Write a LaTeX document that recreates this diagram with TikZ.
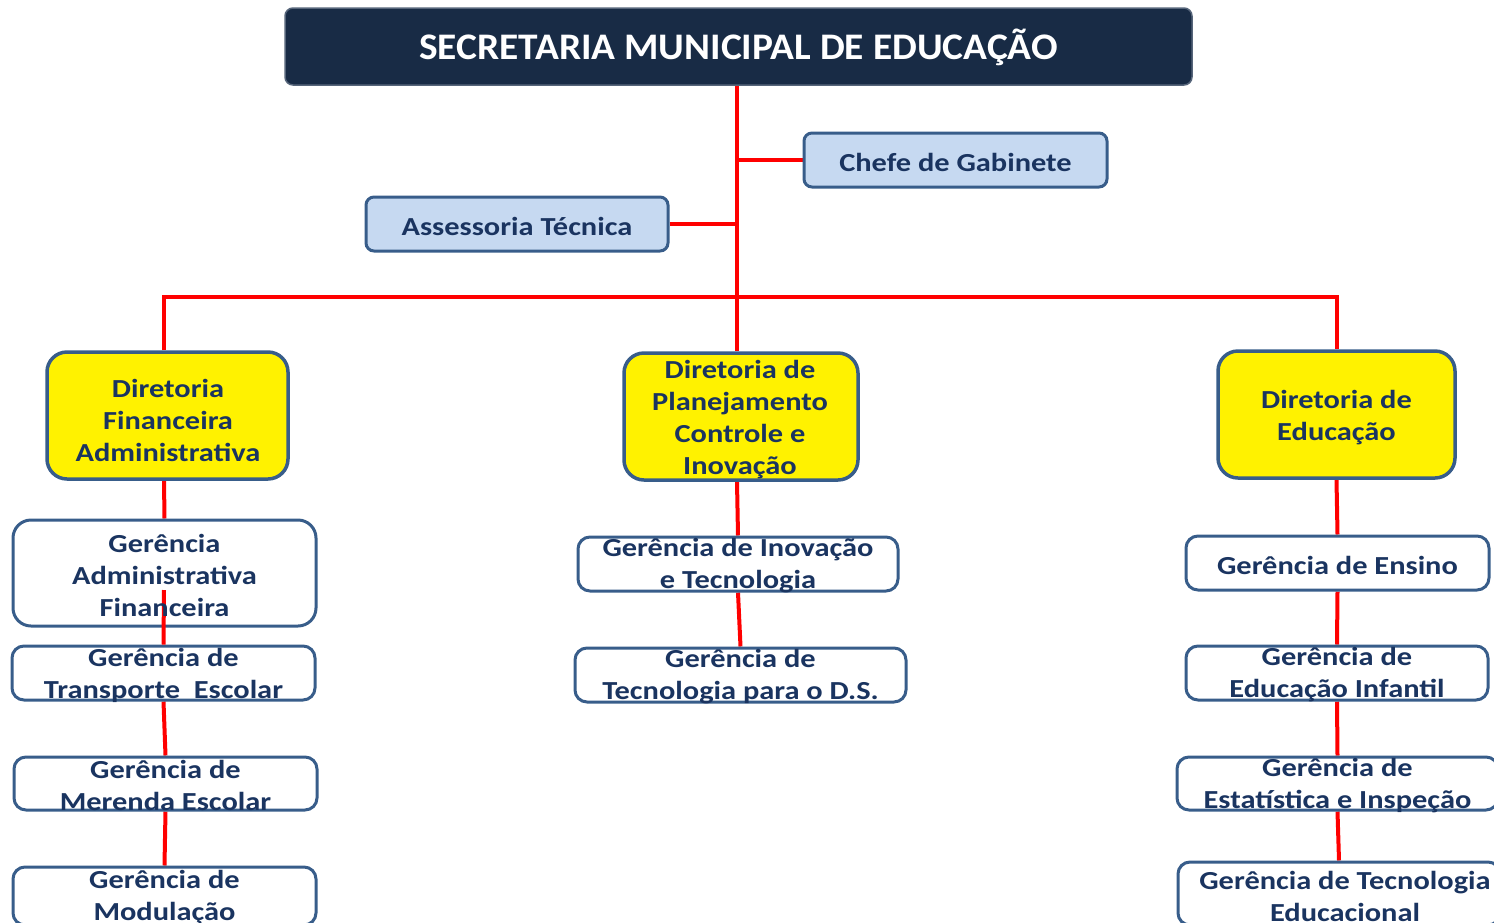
\documentclass[tikz,border=0pt]{standalone}
\usepackage{fontspec}
\usetikzlibrary{backgrounds}
\newfontfamily\bxfont[FakeStretch=1.17]{Carlito}
\newfontfamily\ttlfont[FakeStretch=1.05]{Carlito}
\definecolor{navy}{HTML}{1A3460}
\definecolor{bordc}{HTML}{385D8A}
\definecolor{lightb}{HTML}{C6D9F1}
\definecolor{ttlfill}{HTML}{182B45}
\definecolor{ttledge}{HTML}{56657A}
\begin{document}
\begin{tikzpicture}[x=1pt,y=-1pt,
  conn/.style={draw=red, line width=4pt},
  boxbase/.style={draw=bordc, line width=3pt, inner sep=0pt},
  dirbox/.style={boxbase, fill=yellow, rounded corners=20pt, line width=3.5pt, minimum height=127pt},
  gerbox/.style={boxbase, fill=white, rounded corners=12pt},
  auxbox/.style={boxbase, fill=lightb, rounded corners=8pt, minimum width=303pt, minimum height=54pt},
  ttlbox/.style={draw=ttledge, line width=1.5pt, fill=ttlfill, rounded corners=8pt, inner sep=0pt},
  txt/.style={text=navy, font=\bxfont\bfseries\fontsize{26}{32}\selectfont, align=center, inner sep=0pt, yshift=-2pt},
  ttltxt/.style={text=white, font=\ttlfont\bfseries\fontsize{37.5}{40}\selectfont, inner sep=0pt, yshift=-1pt}
]
\useasboundingbox (0,0) rectangle (1494,922);

% ---------- boxes ----------
\node[ttlbox, minimum width=907pt, minimum height=77pt] (title) at (738.5,46.5) {};
\coordinate (hub) at (737,297);

\node[auxbox] (chefe) at (955.5,160) {};
\node[auxbox, minimum width=302pt] (assess) at (517,224) {};

\node[dirbox, minimum width=241pt] (dirFin) at (167.5,415.5) {};
\node[dirbox, minimum width=234pt] (dirPlan) at (741,416.5) {};
\node[dirbox, minimum width=237pt] (dirEdu) at (1336.5,414.5) {};

\node[gerbox, rounded corners=18pt, minimum width=303pt, minimum height=106pt] (gAF) at (164.5,573) {};
\node[gerbox, minimum width=303pt, minimum height=54pt] (gTE) at (163.5,673) {};
\node[gerbox, minimum width=303pt, minimum height=53pt] (gME) at (165.5,783.5) {};
\node[gerbox, minimum width=303pt, minimum height=58pt] (gMo) at (164.5,896) {};

\node[gerbox, minimum width=320pt, minimum height=54pt] (gIT) at (738,564) {};
\node[gerbox, minimum width=331pt, minimum height=54pt] (gTDS) at (740.5,675) {};

\node[gerbox, minimum width=303pt, minimum height=54pt] (gEns) at (1337.5,563) {};
\node[gerbox, minimum width=302pt, minimum height=54pt] (gEI) at (1337,673) {};
\node[gerbox, minimum width=321pt, minimum height=53pt] (gEst) at (1337.5,783.5) {};
\node[gerbox, minimum width=322pt, minimum height=63pt] (gTEd) at (1339,893.5) {};

% ---------- connectors behind boxes ----------
\begin{scope}[on background layer]
\draw[conn] (title.south -| hub) -- (hub) -- (hub |- dirPlan.north);
\draw[conn] (chefe.west -| hub) -- (chefe.west);
\draw[conn] (assess.east) -- (assess.east -| hub);
\draw[conn] ([xshift=-3.5pt]dirFin.north) |- (hub) -| (dirEdu.north);
\draw[conn] ([xshift=-3.5pt]dirFin.south) -- (gAF.north);
\draw[conn] (gTE.south) -- (gME.north);
\draw[conn] (gME.south) -- (gMo.north);
\draw[conn] ([xshift=-4pt]dirPlan.south) -- (gIT.north);
\draw[conn] (gIT.south) -- (gTDS.north);
\draw[conn] (dirEdu.south) -- (gEns.north);
\draw[conn] (gEns.south) -- (gEI.north);
\draw[conn] (gEI.south) -- (gEst.north);
\draw[conn] (gEst.south) -- (gTEd.north);
\end{scope}

% connector drawn over the first management box
\coordinate (gAFin) at (164,590);
\draw[conn] (gAFin) -- (gTE.north);

% ---------- texts ----------
\node[ttltxt] (ttlT) at (title) {SECRETARIA MUNICIPAL DE EDUCAÇÃO};
\node[txt] (chefeT) at (chefe) {Chefe de Gabinete};
\node[txt] (assessT) at (assess) {Assessoria Técnica};
\node[txt] (dirFinT) at (168,418) {Diretoria\\Financeira\\Administrativa};
\node[txt] (dirPlanT) at (740,418) {Diretoria de\\Planejamento\\Controle e\\Inovação};
\node[txt] (dirEduT) at (1336.5,416) {Diretoria de\\Educação};
\node[txt] (gAFT) at (gAF) {Gerência\\Administrativa\\Financeira};
\node[txt] (gTET) at (gTE) {Gerência de\\Transporte\ \ Escolar};
\node[txt] (gMET) at (gME) {Gerência de\\Merenda Escolar};
\node[txt] (gMoT) at (gMo) {Gerência de\\Modulação};
\node[txt] (gITT) at (gIT) {Gerência de Inovação\\e Tecnologia};
\node[txt] (gTDST) at (gTDS) {Gerência de\\Tecnologia para o D.S.};
\node[txt] (gEnsT) at (gEns) {Gerência de Ensino};
\node[txt] (gEIT) at (gEI) {Gerência de\\Educação Infantil};
\node[txt] (gEstT) at (gEst) {Gerência de\\Estatística e Inspeção};
\node[txt] (gTEdT) at (1345,894.5) {Gerência de Tecnologia\\Educacional};
\end{tikzpicture}
\end{document}
